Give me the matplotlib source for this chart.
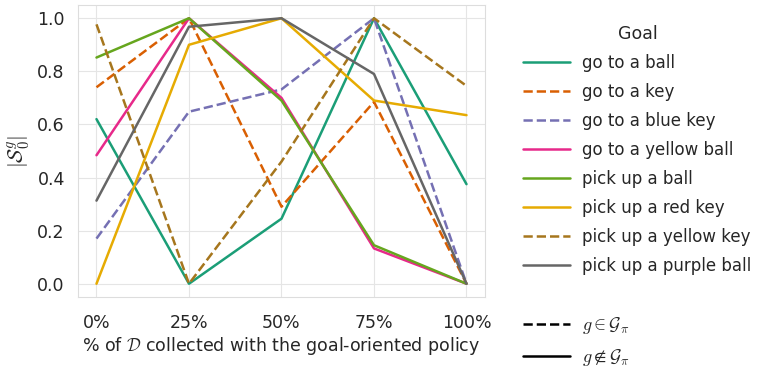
import numpy as np
import matplotlib
matplotlib.use("Agg")
import matplotlib.pyplot as plt
import seaborn as sns
from matplotlib.lines import Line2D

sns.set_style("whitegrid")
plt.rcParams['font.family'] = ['DejaVu Sans']
plt.rcParams['mathtext.fontset'] = 'cm'

# --- data ---
fractions = ["0%", "25%", "50%", "75%", "100%"]
goals = ["go to a ball", "go to a key", "go to a blue key", "go to a yellow ball",
         "pick up a ball", "pick up a red key", "pick up a yellow key", "pick up a purple ball"]
in_policy = [False, True, True, False, False, False, True, False]

go_ball = [0.62, 0.0, 0.245, 1.0, 0.375]
go_key = [0.74, 1.0, 0.29, 0.685, 0.0]
go_blue_key = [0.17, 0.648, 0.732, 1.0, 0.0]
go_yellow_ball = [0.484, 1.0, 0.70, 0.133, 0.0]
pick_ball = [0.852, 1.0, 0.69, 0.145, 0.0]
pick_red_key = [0.0, 0.90, 1.0, 0.69, 0.635]
pick_yellow_key = [0.977, 0.0, 0.46, 1.0, 0.745]
pick_purple_ball = [0.313, 0.968, 1.0, 0.79, 0.0]

series = [go_ball, go_key, go_blue_key, go_yellow_ball,
          pick_ball, pick_red_key, pick_yellow_key, pick_purple_ball]
colors = sns.color_palette("Dark2", 8)

fig = plt.figure(figsize=(7.76, 3.82), dpi=100)
ax = fig.add_axes([0.1005, 0.2225, 0.5245, 0.7645])

x = np.arange(len(fractions))
handles = []
for name, vals, c, dashed in zip(goals, series, colors, in_policy):
    ls = '--' if dashed else '-'
    h, = ax.plot(x, vals, color=c, linestyle=ls, linewidth=1.8, label=name)
    handles.append(h)

ax.set_xticks(x)
ax.set_xticklabels(fractions)
ax.set_xlim(-0.2, 4.2)
ax.set_ylim(-0.05, 1.05)
ax.set_yticks(np.arange(0, 1.01, 0.2))
ax.set_yticklabels([f"{v:.1f}" for v in np.arange(0, 1.01, 0.2)])
ax.tick_params(axis='y', labelsize=12.5, pad=6)
ax.tick_params(axis='x', labelsize=12.5, pad=9)
ax.set_xlabel(r"% of $\mathcal{D}$ collected with the goal-oriented policy", fontsize=12.5, labelpad=2)
ax.set_ylabel(r"$|\mathcal{S}_0^g|$", fontsize=15)
for s in ax.spines.values():
    s.set_color("#dddddd")
ax.grid(color="#e5e5e5")

blank = Line2D([], [], color='none')
dash_h = Line2D([], [], color='black', linestyle='--', linewidth=1.8)
solid_h = Line2D([], [], color='black', linestyle='-', linewidth=1.8)
leg_handles = handles + [blank, dash_h, solid_h]
leg_labels = goals + ["", r"$g \in \mathcal{G}_\pi$", r"$g \notin \mathcal{G}_\pi$"]
leg = fig.legend(leg_handles, leg_labels, title="Goal", loc="upper left",
                 bbox_to_anchor=(0.655, 0.975), frameon=False, fontsize=12,
                 title_fontsize=12.5, handlelength=2.8, handletextpad=0.75,
                 labelspacing=0.66)
for t in leg.get_texts()[-2:]:
    t.set_fontsize(13)

fig.savefig("out.png", dpi=100)
